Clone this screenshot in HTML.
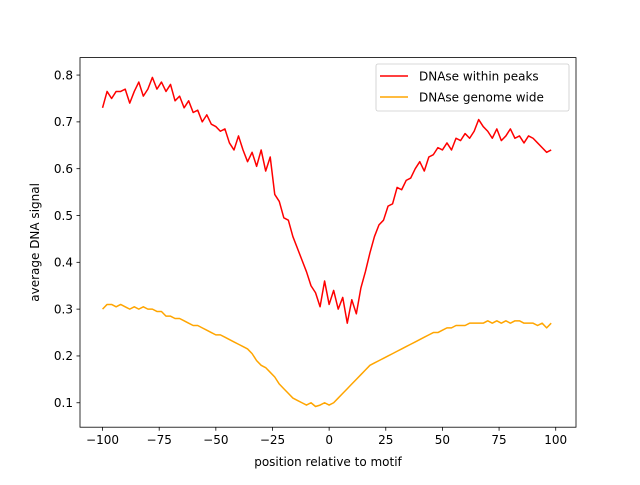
<!DOCTYPE html>
<html><head><meta charset="utf-8"><style>
body{margin:0;background:#fff}
svg text{font-family:"DejaVu Sans","Liberation Sans",sans-serif;font-size:12px;fill:#000}
</style></head><body>
<svg id="chart" width="640" height="480" viewBox="0 0 640 480" xmlns="http://www.w3.org/2000/svg">
<rect width="640" height="480" fill="#fff"/>
<g id="plot"></g>
<g id="axes"></g>
</svg>
<script>
const positions = [];
for (let p = -100; p <= 98; p += 2) positions.push(p);
const peaksSignal = [0.73,0.765,0.75,0.765,0.765,0.77,0.74,0.765,0.785,0.755,0.77,0.795,0.77,0.785,0.765,0.78,0.745,0.755,0.73,0.745,0.72,0.725,0.70,0.715,0.695,0.69,0.68,0.685,0.655,0.64,0.67,0.64,0.615,0.635,0.605,0.64,0.595,0.625,0.545,0.53,0.495,0.49,0.455,0.43,0.405,0.38,0.35,0.335,0.305,0.36,0.31,0.34,0.30,0.325,0.27,0.32,0.29,0.345,0.38,0.42,0.455,0.48,0.49,0.52,0.525,0.56,0.555,0.575,0.58,0.60,0.615,0.595,0.625,0.63,0.645,0.64,0.655,0.64,0.665,0.66,0.675,0.665,0.68,0.705,0.69,0.68,0.665,0.685,0.66,0.67,0.685,0.665,0.67,0.655,0.67,0.665,0.655,0.645,0.635,0.64];
const genomeSignal = [0.30,0.31,0.31,0.305,0.31,0.305,0.30,0.305,0.30,0.305,0.30,0.30,0.295,0.295,0.285,0.285,0.28,0.28,0.275,0.27,0.265,0.265,0.26,0.255,0.25,0.245,0.245,0.24,0.235,0.23,0.225,0.22,0.215,0.205,0.19,0.18,0.175,0.165,0.155,0.14,0.13,0.12,0.11,0.105,0.10,0.095,0.10,0.092,0.095,0.10,0.095,0.10,0.11,0.12,0.13,0.14,0.15,0.16,0.17,0.18,0.185,0.19,0.195,0.20,0.205,0.21,0.215,0.22,0.225,0.23,0.235,0.24,0.245,0.25,0.25,0.255,0.26,0.26,0.265,0.265,0.265,0.27,0.27,0.27,0.27,0.275,0.27,0.275,0.27,0.275,0.27,0.275,0.275,0.27,0.27,0.27,0.265,0.27,0.26,0.27];
const xTicks = [-100,-75,-50,-25,0,25,50,75,100];
const yTicks = [0.1,0.2,0.3,0.4,0.5,0.6,0.7,0.8];
const seriesNames = ["DNAse within peaks","DNAse genome wide"];
const seriesColors = ["#ff0000","#ffa500"];

const L=80,R=576,T=57.6,B=427.2;
const xmin=-109.95,xmax=108.95,ymin=0.0478,ymax=0.8373;
const X=v=>L+(v-xmin)/(xmax-xmin)*(R-L);
const Y=v=>B-(v-ymin)/(ymax-ymin)*(B-T);
const NS="http://www.w3.org/2000/svg";
function mk(tag,attrs,parent){const e=document.createElementNS(NS,tag);for(const k in attrs)e.setAttribute(k,attrs[k]);parent.appendChild(e);return e;}
const plot=document.getElementById('plot'), axes=document.getElementById('axes');
[peaksSignal,genomeSignal].forEach((s,i)=>{
  const d=s.map((v,j)=>(j?'L':'M')+X(positions[j]).toFixed(2)+','+Y(v).toFixed(2)).join('');
  const p=mk('path',{d:d,fill:'none',stroke:seriesColors[i],'stroke-width':1.5,'stroke-linejoin':'round'},plot);
  
  
});
const frame=mk('rect',{x:L,y:T,width:R-L,height:B-T,fill:'none',stroke:'#000','stroke-width':0.8},axes);


xTicks.forEach(t=>{
  const x=X(t);
  mk('line',{x1:x,x2:x,y1:B,y2:B+3.5,stroke:'#000','stroke-width':0.8},axes);
  const tx=mk('text',{x:x,y:B+17,'text-anchor':'middle'},axes);
  tx.textContent=(t<0?'\u2212'+(-t):String(t));
  
  
});
yTicks.forEach(t=>{
  const y=Y(t);
  mk('line',{x1:L-3.5,x2:L,y1:y,y2:y,stroke:'#000','stroke-width':0.8},axes);
  const tx=mk('text',{x:L-7,y:y+4.3,'text-anchor':'end'},axes);
  tx.textContent=t.toFixed(1);
  
  
});
const xt=mk('text',{x:(L+R)/2,y:466,'text-anchor':'middle'},axes);
xt.textContent='position relative to motif';


const yt=mk('text',{x:0,y:0,'text-anchor':'middle',transform:'translate(39,'+((T+B)/2)+') rotate(-90)'},axes);
yt.textContent='average DNA signal';


const lg=mk('g',{},axes);


mk('rect',{x:376,y:64,width:193,height:47,rx:2,fill:'#fff','fill-opacity':0.8,stroke:'#ccc','stroke-width':0.8},lg);
seriesNames.forEach((n,i)=>{
  const y=76+i*21;
  mk('line',{x1:380,x2:408,y1:y,y2:y,stroke:seriesColors[i],'stroke-width':1.5},lg);
  const t=mk('text',{x:419,y:y+4.3},lg);
  t.textContent=n;
  
  
});
</script>
</body></html>
